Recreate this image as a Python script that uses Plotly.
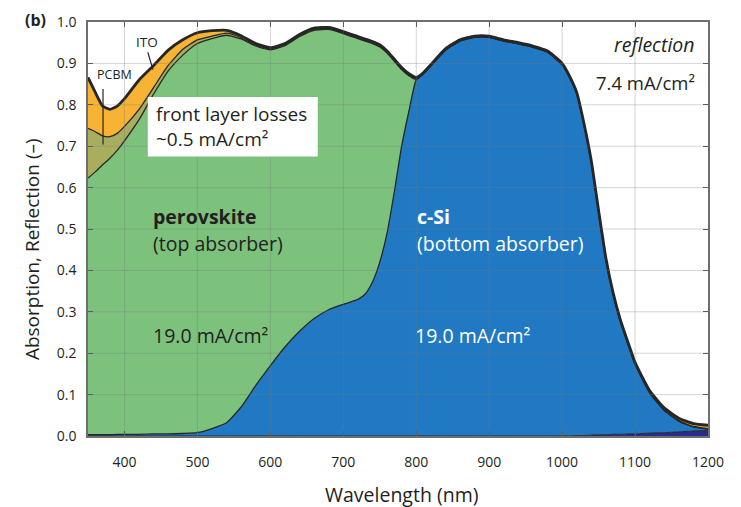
import plotly.graph_objects as go

# ---------------- data ----------------
wavelength = [350, 360, 370, 380, 390, 400, 420, 440, 460, 480, 500, 520, 540, 560, 580,
              600, 620, 640, 660, 680, 700, 720, 730, 740, 750, 760, 770, 780, 790, 800,
              810, 820, 840, 860, 880, 900, 920, 940, 960, 980, 1000, 1010, 1020, 1030,
              1040, 1050, 1060, 1070, 1080, 1090, 1100, 1120, 1140, 1160, 1180, 1200]

# absorption in the rear (dark navy)
rear = [0, 0, 0, 0, 0, 0, 0, 0, 0, 0, 0, 0, 0, 0, 0,
        0, 0, 0, 0, 0, 0, 0, 0, 0, 0, 0, 0, 0, 0, 0,
        0, 0, 0, 0, 0, 0, 0, 0, 0, 0, 0, 0, 0.001, 0.001,
        0.002, 0.003, 0.003, 0.004, 0.004, 0.005, 0.005, 0.007, 0.008, 0.010, 0.012, 0.014]

# c-Si bottom absorber (blue)
csi = [0.003, 0.003, 0.003, 0.003, 0.004, 0.004, 0.004, 0.005, 0.005, 0.006, 0.008, 0.018, 0.032, 0.070, 0.122,
       0.170, 0.215, 0.253, 0.284, 0.305, 0.318, 0.330, 0.343, 0.372, 0.420, 0.490, 0.590, 0.700, 0.785, 0.861,
       0.875, 0.894, 0.932, 0.954, 0.963, 0.963, 0.954, 0.947, 0.939, 0.927, 0.897, 0.867, 0.826, 0.751,
       0.660, 0.539, 0.424, 0.338, 0.273, 0.219, 0.169, 0.098, 0.054, 0.026, 0.010, 0.003]

# perovskite top absorber (green)
perovskite = [0.620, 0.635, 0.652, 0.668, 0.686, 0.709, 0.760, 0.821, 0.877, 0.914, 0.940, 0.942, 0.936, 0.889, 0.820,
              0.763, 0.728, 0.712, 0.696, 0.677, 0.654, 0.630, 0.611, 0.576, 0.520, 0.435, 0.315, 0.185, 0.085, 0.0,
              0, 0, 0, 0, 0, 0, 0, 0, 0, 0, 0, 0, 0, 0,
              0, 0, 0, 0, 0, 0, 0, 0, 0, 0, 0, 0]

# PCBM parasitic absorption (olive)
pcbm = [0.120, 0.097, 0.070, 0.052, 0.041, 0.035, 0.025, 0.016, 0.013, 0.014, 0.009, 0.006, 0.005, 0.003, 0.002,
        0.002, 0.002, 0.002, 0.002, 0.002, 0.002, 0.002, 0.002, 0.002, 0.002, 0.002, 0.002, 0.002, 0.002, 0.002,
        0.001, 0.001, 0.001, 0.001, 0.001, 0.001, 0.001, 0.001, 0.001, 0.001, 0.001, 0.001, 0.001, 0.001,
        0.001, 0.001, 0.001, 0.001, 0.001, 0.001, 0.001, 0.001, 0.001, 0.001, 0.001, 0.001]

# ITO parasitic absorption (orange)
ito = [0.123, 0.095, 0.072, 0.066, 0.066, 0.067, 0.071, 0.053, 0.037, 0.023, 0.017, 0.013, 0.007, 0.005, 0.004,
       0.003, 0.003, 0.003, 0.003, 0.003, 0.003, 0.003, 0.003, 0.003, 0.003, 0.003, 0.003, 0.003, 0.003, 0.003,
       0.002, 0.002, 0.002, 0.002, 0.002, 0.002, 0.002, 0.002, 0.002, 0.002, 0.002, 0.002, 0.002, 0.002,
       0.002, 0.002, 0.002, 0.002, 0.002, 0.003, 0.003, 0.004, 0.005, 0.006, 0.007, 0.008]

x_ticks = [400, 500, 600, 700, 800, 900, 1000, 1100, 1200]
y_ticks = [0.0, 0.1, 0.2, 0.3, 0.4, 0.5, 0.6, 0.7, 0.8, 0.9, 1.0]

# ---------------- styling ----------------
FONT = "Open Sans"
TXT = "#231f20"
EDGE = "#262626"

layers = [
    ("rear", rear, "#2a2d8a", 1.0),
    ("c-Si", csi, "#2079c2", 1.3),
    ("perovskite", perovskite, "#7cc27d", 1.3),
    ("PCBM", pcbm, "#a9ae5e", 1.3),
    ("ITO", ito, "#f8b334", 2.8),
]

fig = go.Figure()
for name, vals, col, lw in layers:
    fig.add_trace(go.Scatter(
        x=wavelength, y=vals, name=name, stackgroup="abs", mode="lines",
        line=dict(color=EDGE, width=lw, shape="spline", smoothing=0.5),
        fillcolor=col, hoverinfo="skip", showlegend=False))

# grid lines over the filled areas (as in the reference)
grid = "rgba(120,120,120,0.32)"
for xv in x_ticks[:-1]:
    fig.add_shape(type="line", xref="x", yref="paper", x0=xv, x1=xv, y0=0, y1=1,
                  line=dict(color=grid, width=1), layer="above")
for yv in y_ticks[1:-1]:
    fig.add_shape(type="line", xref="paper", yref="y", x0=0, x1=1, y0=yv, y1=yv,
                  line=dict(color=grid, width=1), layer="above")

# white label box
fig.add_shape(type="rect", xref="x", yref="y", x0=432, x1=665, y0=0.675, y1=0.819,
              fillcolor="white", line=dict(width=0), layer="above")

# pointer lines for PCBM / ITO
fig.add_shape(type="line", xref="x", yref="y", x0=370.6, x1=370.6, y0=0.838, y1=0.704,
              line=dict(color=EDGE, width=1.2), layer="above")
fig.add_shape(type="line", xref="x", yref="y", x0=432, x1=439, y0=0.927, y1=0.885,
              line=dict(color=EDGE, width=1.2), layer="above")

def ann(text, x, y, size=19, color=TXT, xanchor="left", xref="x", yref="y", angle=0):
    fig.add_annotation(text=text, x=x, y=y, xref=xref, yref=yref, showarrow=False,
                       xanchor=xanchor, yanchor="middle", align="left", textangle=angle,
                       font=dict(family=FONT, size=size, color=color))

ann("<b>(b)</b>", -0.084, 1.004, size=16, xref="paper", yref="paper", xanchor="center")
ann("ITO", 430.5, 0.951, size=13.5, xanchor="center")
ann("PCBM", 386.8, 0.872, size=12.5, xanchor="center")
ann("front layer losses<br>~0.5 mA/cm²", 440, 0.747, size=19)
ann("<b>perovskite</b>", 436, 0.53, size=19.5)
ann("(top absorber)", 436, 0.465, size=19.5)
ann("19.0 mA/cm²", 436, 0.242, size=19.5)
ann("<b>c-Si</b>", 798, 0.53, color="white", size=19.5)
ann("(bottom absorber)", 798, 0.465, color="white", size=19.5)
ann("19.0 mA/cm²", 796, 0.242, color="white", size=19.5)
ann("<i>reflection</i>", 1185, 0.946, xanchor="right", size=19.5)
ann("7.4 mA/cm²", 1185, 0.855, xanchor="right", size=18.5)

# axis titles
ann("Absorption, Reflection (–)", -0.09, 0.452, size=19, xref="paper", yref="paper",
    xanchor="center", angle=-90)
fig.add_annotation(text="Wavelength (nm)", x=0.505, y=-0.142, xref="paper", yref="paper",
                   showarrow=False, xanchor="center", yanchor="middle",
                   font=dict(family=FONT, size=19.5, color=TXT))

axis_common = dict(showline=True, linecolor="#6e6e6e", linewidth=1.5, mirror="ticks",
                   ticks="inside", ticklen=5, tickcolor="#555555", tickwidth=1,
                   showgrid=False, zeroline=False,
                   tickfont=dict(family=FONT, size=14, color=TXT))

fig.update_xaxes(range=[350, 1200], tickvals=x_ticks, ticklabelstandoff=12, **axis_common)
fig.update_yaxes(range=[0, 1.0], tickvals=y_ticks, tickformat=".1f", ticklabelstandoff=7,
                 **axis_common)

fig.update_layout(width=741, height=507, autosize=False,
                  margin=dict(l=88, r=33, t=20, b=71),
                  plot_bgcolor="white", paper_bgcolor="white",
                  font=dict(family=FONT, color=TXT))

fig.write_html("out.html")
